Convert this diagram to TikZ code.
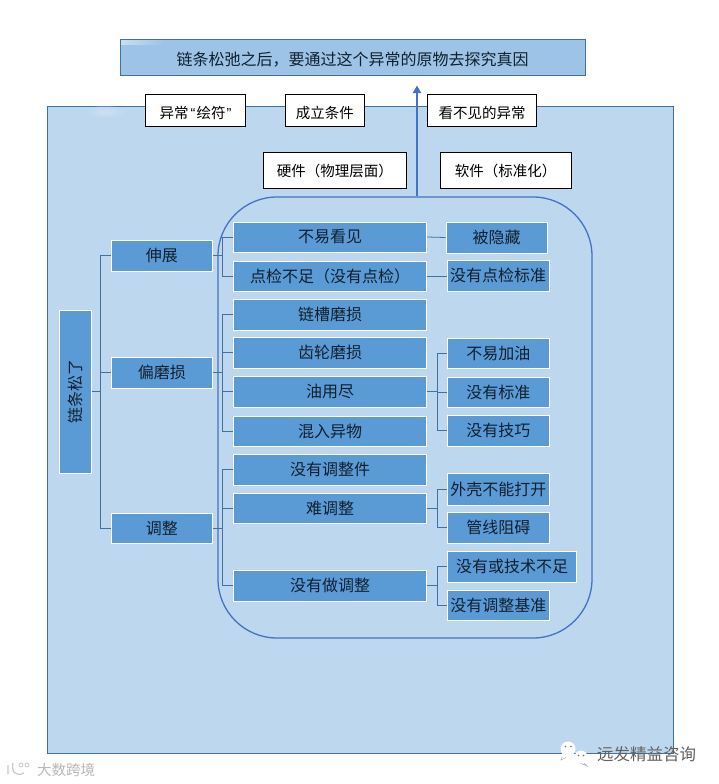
\documentclass[tikz,border=0pt]{standalone}
\usepackage{fontspec}
\setmainfont{Noto Sans CJK SC}
\newfontfamily\latinq{Liberation Sans}
\usetikzlibrary{calc,arrows.meta,shadings}
\definecolor{bgblue}{HTML}{BDD7EE}
\definecolor{boxblue}{HTML}{5B9BD5}
\definecolor{titleblue}{HTML}{9DC3E6}
\definecolor{edgeblue}{HTML}{41719C}
\definecolor{roundblue}{HTML}{4472C4}
\definecolor{inkblue}{HTML}{10202E}
\tikzset{
  blue box/.style={draw=white,line width=1pt,fill=boxblue,inner sep=0pt,text=inkblue,font=\fontsize{16}{19}\selectfont},
  note box/.style={draw=black,line width=1pt,fill=white,inner sep=0pt,text=black,font=\fontsize{14.5}{17}\selectfont},
  title box/.style={draw=edgeblue,line width=1pt,fill=titleblue,inner sep=0pt,text=inkblue,font=\fontsize{16}{19}\selectfont},
  conn/.style={draw=edgeblue,line width=0.8pt},
  mark text/.style={inner sep=0pt,text=black!62,font=\fontsize{16.5}{19}\selectfont},
}
% name, style, x1, y1, x2, y2, text
\newcommand{\bx}[7]{\node[#2,minimum width={(#5-#3)*1pt},minimum height={(#6-#4)*1pt}] (#1) at ({(#3+#5)/2},{(#4+#6)/2}) {#7};}
% lower a text inside its node by #1
\newcommand{\dn}[2]{\raisebox{-#1}[\dimexpr\height+#1\relax]{#2}}
\begin{document}
\begin{tikzpicture}[x=1pt,y=-1pt]
\useasboundingbox (0,0) rectangle (719,784);
\fill[white] (0,0) rectangle (719,784);
% background panel
\bx{panel}{draw=edgeblue,line width=1pt,fill=bgblue,inner sep=0pt}{47}{106}{673}{753}{}
% faint glare on the panel edge
\shade[inner color=white,outer color=bgblue,opacity=.25] (105,112) ellipse (22 and 6);
% title
\bx{title}{title box}{120}{40}{585}{75}{\dn{2pt}{链条松弛之后，要通过这个异常的原物去探究真因}}
\shade[left color=white,right color=titleblue,opacity=.45] (121,41) rectangle (165,44.5);
% notes
\bx{n1}{note box}{145.5}{94}{245.5}{126}{\dn{3pt}{异常\hspace{2pt}{\latinq “}\hspace{1pt}绘符\hspace{1pt}{\latinq ”}}}
\bx{n2}{note box}{285}{94}{364.5}{126}{\dn{3pt}{成立条件}}
\bx{n3}{note box}{427.5}{94}{536.5}{126}{\dn{3pt}{看不见的异常}}
\bx{n4}{note box}{263}{152}{406.5}{188}{\dn{1pt}{硬件（物理层面）}}
\bx{n5}{note box}{440}{152}{571}{188}{\dn{1pt}{软件（标准化）}}
% rounded frame
\node[draw=roundblue,line width=1.3pt,rounded corners=59pt,minimum width=374pt,minimum height=441pt,inner sep=0pt] (frame) at (405,417.5) {};
\coordinate (tip) at (417,85.5);
\draw[roundblue,line width=1.8pt,-{Triangle[width=8pt,length=7.5pt]}] (tip |- frame.north) -- (tip);
% level 1
\bx{root}{blue box}{59}{310}{91}{473}{\rotatebox{90}{链条松了}}
% level 2
\bx{a1}{blue box}{111}{240}{212.5}{271.5}{伸展}
\bx{a2}{blue box}{111}{357}{212.5}{388}{偏磨损}
\bx{a3}{blue box}{111}{513}{212.5}{543}{调整}
% level 3
\bx{b1}{blue box}{233.5}{222}{426.5}{252}{不易看见}
\bx{b2}{blue box}{233.5}{261}{426.5}{291}{点检不足（没有点检）}
\bx{b3}{blue box}{233.5}{299}{426.5}{330}{链槽磨损}
\bx{b4}{blue box}{233.5}{337}{426.5}{368}{齿轮磨损}
\bx{b5}{blue box}{233.5}{376}{426.5}{407}{油用尽}
\bx{b6}{blue box}{233.5}{416}{426.5}{446}{混入异物}
\bx{b7}{blue box}{233.5}{454}{426.5}{485}{没有调整件}
\bx{b8}{blue box}{233.5}{493}{426.5}{523}{难调整}
\bx{b9}{blue box}{233.5}{570.5}{426.5}{601}{没有做调整}
% level 4
\bx{c1}{blue box}{446}{222}{547}{253}{被隐藏}
\bx{c2}{blue box}{447}{260.5}{549}{291}{没有点检标准}
\bx{c3}{blue box}{447.5}{338}{549}{368}{不易加油}
\bx{c4}{blue box}{447.5}{377}{549}{407}{没有标准}
\bx{c5}{blue box}{447.5}{415.5}{549}{446}{没有技巧}
\bx{c6}{blue box}{447.5}{473.5}{549}{505}{外壳不能打开}
\bx{c7}{blue box}{447.5}{512.5}{549}{543}{管线阻碍}
\bx{c8}{blue box}{447.5}{551.5}{576.5}{582}{没有或技术不足}
\bx{c9}{blue box}{447.5}{590}{549}{620.5}{没有调整基准}
% trunks
\coordinate (T1) at (100.5,0);
\coordinate (T2) at (222.5,0);
\coordinate (T3) at (437.5,0);
\draw[conn] (root.east) -- (root.east -| T1);
\draw[conn] (a1.west) -- (a1.west -| T1) -- (a3.west -| T1) -- (a3.west);
\draw[conn] (a2.west) -- (a2.west -| T1);
\draw[conn] (a1.east) -- (a1.east -| T2);
\draw[conn] (b1.west) -- (b1.west -| T2) -- (b2.west -| T2) -- (b2.west);
\draw[conn] (a2.east) -- (a2.east -| T2);
\draw[conn] (b3.west) -- (b3.west -| T2) -- (b6.west -| T2) -- (b6.west);
\draw[conn] (b4.west) -- (b4.west -| T2);
\draw[conn] (b5.west) -- (b5.west -| T2);
\draw[conn] (a3.east) -- (a3.east -| T2);
\draw[conn] (b7.west) -- (b7.west -| T2) -- (b9.west -| T2) -- (b9.west);
\draw[conn] (b8.west) -- (b8.west -| T2);
\draw[conn] (b1.east) -- (c1.west);
\draw[conn] (b2.east) -- (b2.east -| c2.west);
\draw[conn] (b5.east) -- (b5.east -| T3);
\draw[conn] (c3.west) -- (c3.west -| T3) -- (c5.west -| T3) -- (c5.west);
\draw[conn] (c4.west) -- (c4.west -| T3);
\draw[conn] (b8.east) -- (b8.east -| T3);
\draw[conn] (c6.west) -- (c6.west -| T3) -- (c7.west -| T3) -- (c7.west);
\draw[conn] (b9.east) -- (b9.east -| T3);
\draw[conn] (c8.west) -- (c8.west -| T3) -- (c9.west -| T3) -- (c9.west);
% watermarks
\fill[white] (568,749) circle (7.5);
\fill[white] (581,757) circle (6.5);
\fill[white] (564,755) -- (561,760) -- (569,756) -- cycle;
\fill[white] (583,762) -- (587,766) -- (579,762) -- cycle;
\draw[black!30,line width=.6pt] (562,757) -- (561,760) -- (566,757.5) (584,763) -- (587,766) -- (581,763.5);
\fill[black!55] (565.5,746.5) circle (.9) (571,746.5) circle (.9) (578.5,755.5) circle (.8) (583.5,755.5) circle (.8);
\node[mark text,anchor=west] (wm1) at (597,754.5) {远发精益咨询};
\node[inner sep=0pt,text=black!28,font=\fontsize{14.5}{16}\selectfont,anchor=west] (wm2) at (37,770) {大数跨境};
\draw[black!22,line width=1.2pt] (8,765) -- (8,774) (13,763) .. controls (11,772) and (16,777) .. (24,773);
\draw[black!22,line width=.8pt] (21,765) circle (2) (27,765) circle (2);
\end{tikzpicture}
\end{document}
